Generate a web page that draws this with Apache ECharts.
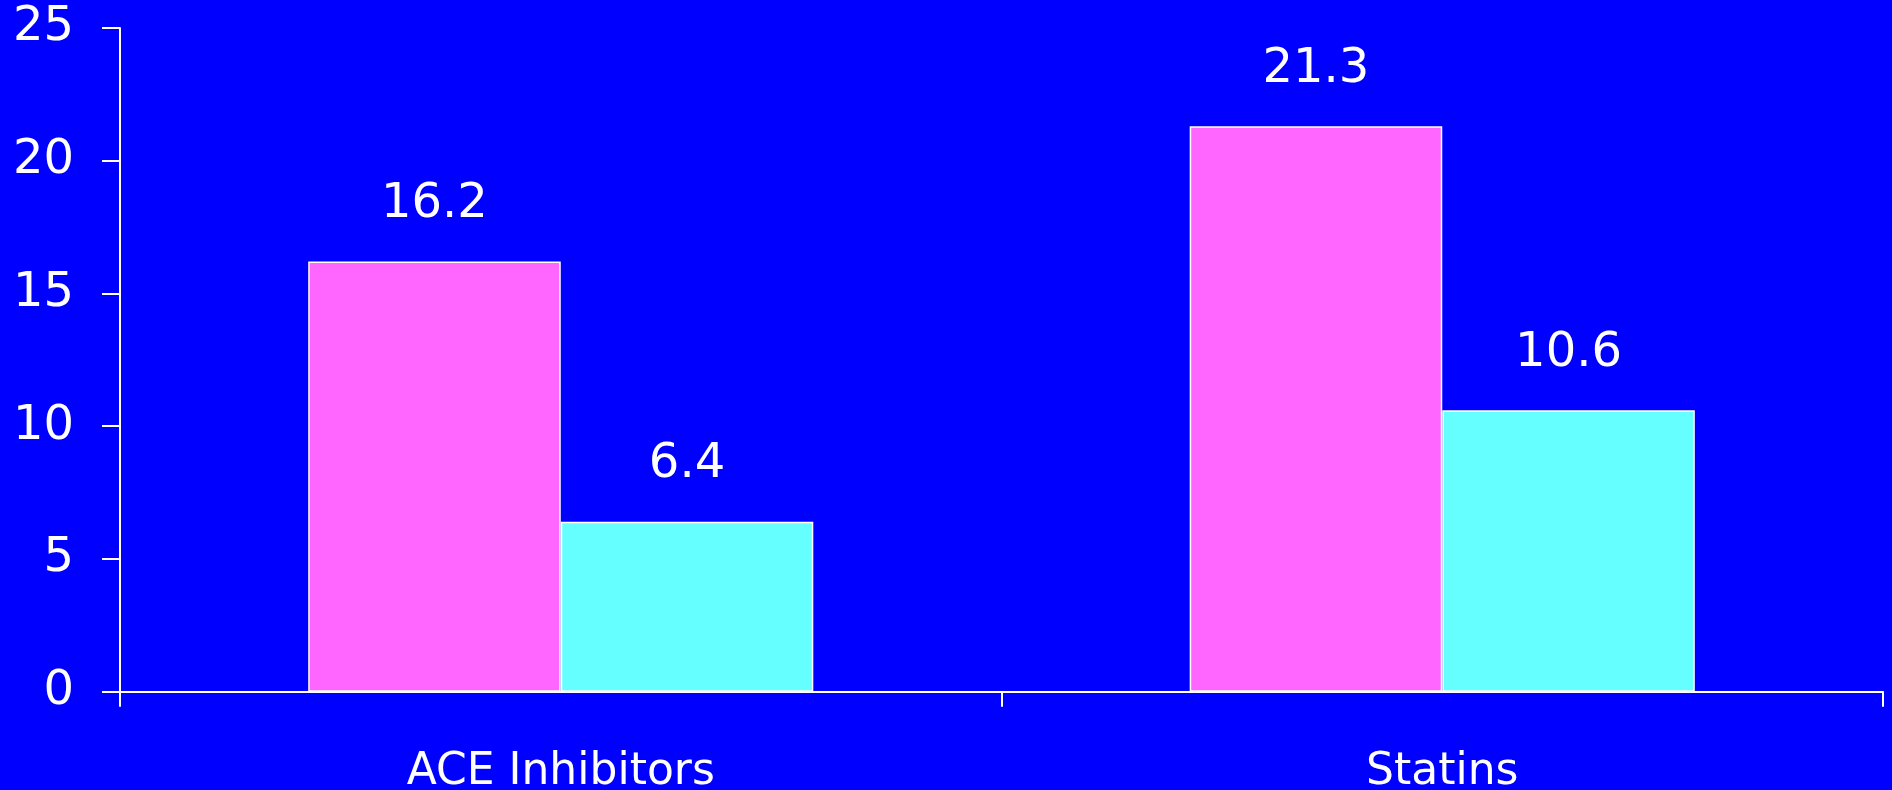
<!DOCTYPE html>
<html>
<head>
<meta charset="utf-8">
<script src="https://cdn.jsdelivr.net/npm/echarts@6/dist/echarts.min.js"></script>
<style>
html,body{margin:0;padding:0;background:#0000FF;}
#chart{width:1892px;height:790px;}
</style>
</head>
<body>
<div id="chart"></div>
<script>
const categories = ['ACE Inhibitors', 'Statins'];
const seriesA = [16.2, 21.3];
const seriesB = [6.4, 10.6];
const yTicks = [0, 5, 10, 15, 20, 25];

const chart = echarts.init(document.getElementById('chart'));
const font = 'DejaVu Sans';
chart.setOption({
  backgroundColor: '#0000FF',
  animation: false,
  grid: { left: 120, right: 9, top: 28, bottom: 98.3, containLabel: false, outerBoundsMode: 'none' },
  xAxis: {
    type: 'category',
    data: categories,
    axisLine: { lineStyle: { color: '#ffffff', width: 2 } },
    axisTick: { show: true, length: 15, lineStyle: { color: '#ffffff', width: 2 } },
    axisLabel: { color: '#ffffff', fontFamily: font, fontSize: 44, margin: 59 },
    splitLine: { show: false }
  },
  yAxis: {
    type: 'value',
    min: yTicks[0],
    max: yTicks[yTicks.length - 1],
    interval: 5,
    axisLine: { show: true, lineStyle: { color: '#ffffff', width: 2 } },
    axisTick: { show: true, length: 18, lineStyle: { color: '#ffffff', width: 2 } },
    axisLabel: { color: '#ffffff', fontFamily: font, fontSize: 48, margin: 46 },
    splitLine: { show: false }
  },
  series: [
    {
      name: 'Group 1', type: 'bar', data: seriesA,
      barGap: 0, barCategoryGap: '42.7%',
      itemStyle: { color: '#FF66FF', borderColor: '#ffffff', borderWidth: 1.5 },
      label: { show: true, position: 'top', distance: 33, color: '#ffffff', fontFamily: font, fontSize: 48 }
    },
    {
      name: 'Group 2', type: 'bar', data: seriesB,
      barGap: 0, barCategoryGap: '42.7%',
      itemStyle: { color: '#66FFFF', borderColor: '#ffffff', borderWidth: 1.5 },
      label: { show: true, position: 'top', distance: 33, color: '#ffffff', fontFamily: font, fontSize: 48 }
    }
  ]
});
</script>
</body>
</html>
